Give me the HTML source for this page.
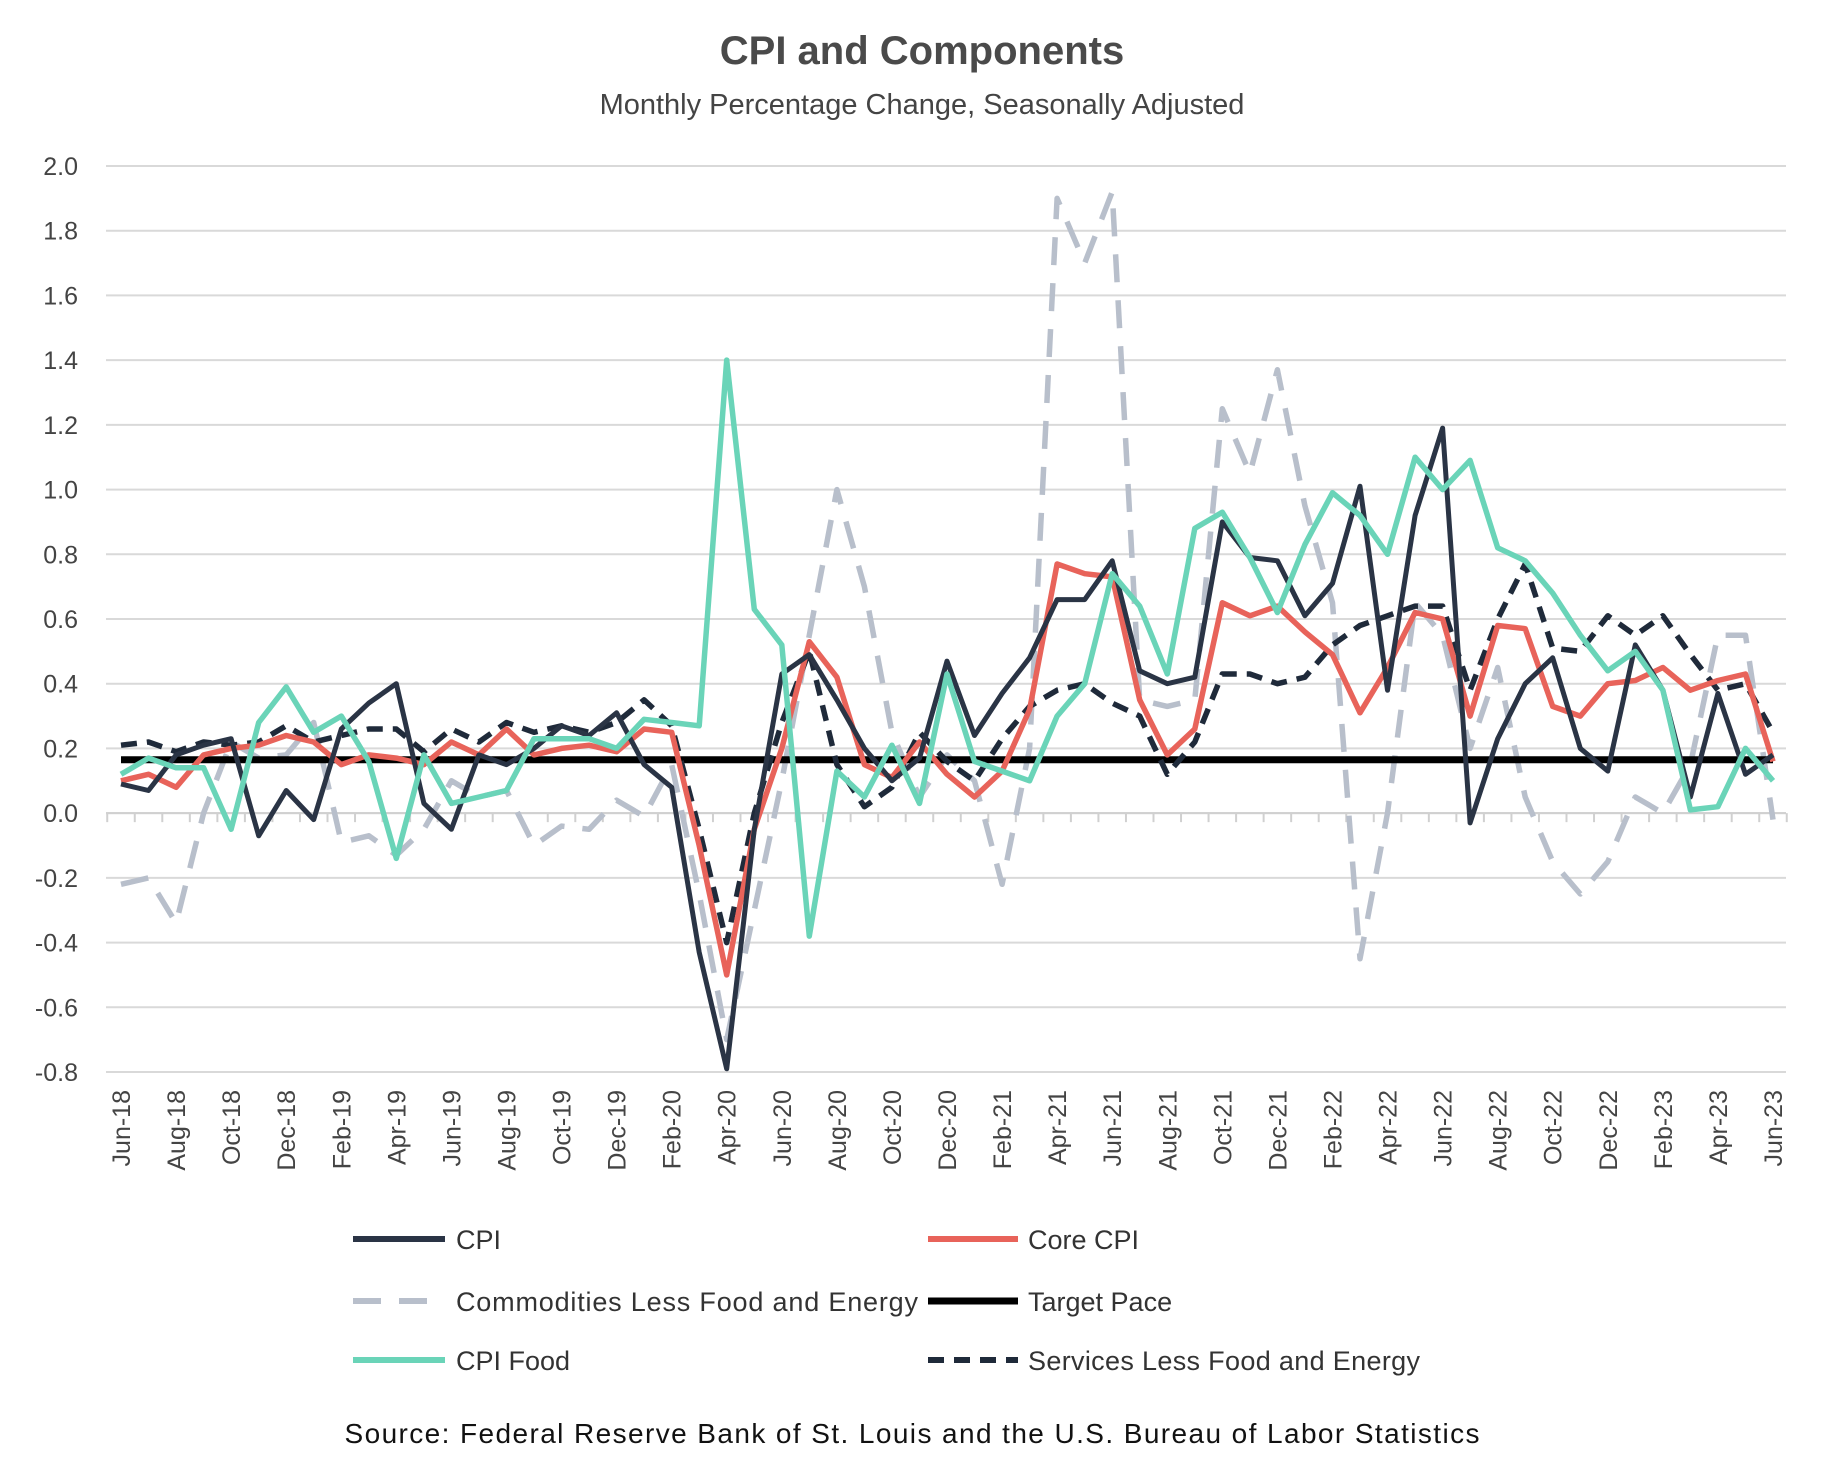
<!DOCTYPE html>
<html><head><meta charset="utf-8">
<style>
html,body{margin:0;padding:0;background:#fff;}
svg{display:block;font-family:"Liberation Sans",sans-serif;}
</style></head>
<body>
<svg id="chart" width="1845" height="1470" viewBox="0 0 1845 1470" xmlns="http://www.w3.org/2000/svg">
<text x="922" y="64" text-anchor="middle" font-size="40" font-weight="bold" fill="#4a4a4a">CPI and Components</text>
<text x="922" y="114" text-anchor="middle" font-size="29" fill="#444">Monthly Percentage Change, Seasonally Adjusted</text>
<g id="grid"></g><g id="series"></g><g id="xlabels"></g>
<g>
<line x1="353" y1="1239" x2="445" y2="1239" stroke="#2a3445" stroke-width="6"/>
<text x="456" y="1249" font-size="27" fill="#333">CPI</text>
<line x1="928" y1="1239" x2="1018" y2="1239" stroke="#e8635a" stroke-width="6"/>
<text x="1028" y="1249" font-size="27" fill="#333">Core CPI</text>
<line x1="353" y1="1301" x2="445" y2="1301" stroke="#b8bfcb" stroke-width="6" stroke-dasharray="28,18"/>
<text x="456" y="1311" font-size="27" fill="#333" textLength="462">Commodities Less Food and Energy</text>
<line x1="928" y1="1301" x2="1018" y2="1301" stroke="#000" stroke-width="7"/>
<text x="1028" y="1311" font-size="27" fill="#333">Target Pace</text>
<line x1="353" y1="1360" x2="445" y2="1360" stroke="#6ad4b8" stroke-width="6"/>
<text x="456" y="1370" font-size="27" fill="#333">CPI Food</text>
<line x1="928" y1="1360" x2="1018" y2="1360" stroke="#1f2a3a" stroke-width="6" stroke-dasharray="16,10"/>
<text x="1028" y="1370" font-size="27" fill="#333" textLength="392">Services Less Food and Energy</text>
</g>
<text x="912" y="1443" text-anchor="middle" font-size="28" fill="#111" textLength="1135">Source: Federal Reserve Bank of St. Louis and the U.S. Bureau of Labor Statistics</text>
</svg>
<script>
const months=["Jun-18","Aug-18","Oct-18","Dec-18","Feb-19","Apr-19","Jun-19","Aug-19","Oct-19","Dec-19","Feb-20","Apr-20","Jun-20","Aug-20","Oct-20","Dec-20","Feb-21","Apr-21","Jun-21","Aug-21","Oct-21","Dec-21","Feb-22","Apr-22","Jun-22","Aug-22","Oct-22","Dec-22","Feb-23","Apr-23","Jun-23"];
const yTicks=[2.0,1.8,1.6,1.4,1.2,1.0,0.8,0.6,0.4,0.2,0.0,-0.2,-0.4,-0.6,-0.8];
const cpi=[0.09,0.07,0.18,0.21,0.23,-0.07,0.07,-0.02,0.26,0.34,0.40,0.03,-0.05,0.18,0.15,0.20,0.27,0.24,0.31,0.15,0.08,-0.43,-0.79,-0.05,0.43,0.49,0.35,0.20,0.10,0.17,0.47,0.24,0.37,0.48,0.66,0.66,0.78,0.44,0.40,0.42,0.90,0.79,0.78,0.61,0.71,1.01,0.38,0.92,1.19,-0.03,0.23,0.40,0.48,0.20,0.13,0.52,0.38,0.05,0.37,0.12,0.18];
const core=[0.10,0.12,0.08,0.18,0.20,0.21,0.24,0.22,0.15,0.18,0.17,0.15,0.22,0.18,0.26,0.18,0.20,0.21,0.19,0.26,0.25,-0.10,-0.50,-0.05,0.20,0.53,0.42,0.15,0.11,0.22,0.12,0.05,0.13,0.32,0.77,0.74,0.73,0.35,0.18,0.26,0.65,0.61,0.64,0.56,0.49,0.31,0.45,0.62,0.60,0.30,0.58,0.57,0.33,0.30,0.40,0.41,0.45,0.38,0.41,0.43,0.16];
const commodities=[-0.22,-0.20,-0.34,0.00,0.22,0.17,0.18,0.28,-0.09,-0.07,-0.13,-0.05,0.10,0.05,0.07,-0.10,-0.04,-0.05,0.04,-0.01,0.15,-0.25,-0.70,-0.30,0.10,0.55,1.00,0.70,0.25,0.05,0.18,0.10,-0.22,0.20,1.90,1.70,1.92,0.35,0.33,0.35,1.25,1.05,1.37,0.95,0.65,-0.45,0.00,0.65,0.55,0.20,0.45,0.05,-0.15,-0.25,-0.15,0.05,0.00,0.15,0.55,0.55,-0.02];
const food=[0.12,0.17,0.14,0.14,-0.05,0.28,0.39,0.25,0.30,0.16,-0.14,0.18,0.03,0.05,0.07,0.23,0.23,0.23,0.20,0.29,0.28,0.27,1.40,0.63,0.52,-0.38,0.13,0.05,0.21,0.03,0.43,0.16,0.13,0.10,0.30,0.40,0.74,0.64,0.43,0.88,0.93,0.79,0.62,0.83,0.99,0.92,0.80,1.10,1.00,1.09,0.82,0.78,0.68,0.55,0.44,0.50,0.38,0.01,0.02,0.20,0.10];
const services=[0.21,0.22,0.19,0.22,0.21,0.22,0.27,0.22,0.24,0.26,0.26,0.19,0.26,0.22,0.28,0.25,0.27,0.25,0.28,0.35,0.27,-0.05,-0.40,0.00,0.28,0.50,0.15,0.02,0.08,0.25,0.16,0.10,0.23,0.33,0.38,0.40,0.34,0.30,0.12,0.22,0.43,0.43,0.40,0.42,0.52,0.58,0.61,0.64,0.64,0.38,0.60,0.77,0.51,0.50,0.61,0.55,0.61,0.49,0.38,0.40,0.25];
const targetPace=0.165;

const NS="http://www.w3.org/2000/svg";
const L=106,R=1786,X0=121,X1=1773,YT=166,YB=1072,N=61;
function xs(i){return X0+(X1-X0)*i/(N-1);}
function ys(v){return YT+(2.0-v)*(YB-YT)/2.8;}
function mk(tag,attrs,parent){const e=document.createElementNS(NS,tag);for(const k in attrs)e.setAttribute(k,attrs[k]);parent.appendChild(e);return e;}
const grid=document.getElementById('grid');
yTicks.forEach(v=>{
  const ln=mk('line',{x1:L,x2:R,y1:ys(v),y2:ys(v),stroke:'#d9d9d9','stroke-width':2},grid);
  
  
  const t=mk('text',{x:78,y:ys(v)+9,'text-anchor':'end','font-size':25,fill:'#444'},grid);
  
  
  t.textContent=v.toFixed(1);
});
const zx=mk('line',{x1:L,x2:R,y1:ys(0),y2:ys(0),stroke:'#d0d0d0','stroke-width':2},grid);


for(let i=0;i<=N;i++){
  const x=X0-(X1-X0)/(N-1)/2+(X1-X0)*i/(N-1);
  const tk=mk('line',{x1:x,x2:x,y1:ys(0),y2:ys(0)+9,stroke:'#d0d0d0','stroke-width':2},grid);
  
  
}
const xl=document.getElementById('xlabels');
months.forEach((m,k)=>{
  const x=xs(k*2);
  const t=mk('text',{transform:`translate(${x+9},1090) rotate(-90)`,'text-anchor':'end','font-size':25,fill:'#444'},xl);
  
  
  t.textContent=m;
});
const sg=document.getElementById('series');
function line(data,stroke,w,dash,name){
  const d=data.map((v,i)=>(i?'L':'M')+xs(i).toFixed(1)+','+ys(v).toFixed(1)).join(' ');
  const p=mk('path',{d:d,fill:'none',stroke:stroke,'stroke-width':w,'stroke-linejoin':'round'},sg);
  if(dash)p.setAttribute('stroke-dasharray',dash);
  
  
}
line(commodities,'#b8bfcb',5.5,'28,18','commodities-line');
const tl=mk('line',{x1:xs(0),x2:xs(N-1),y1:ys(targetPace),y2:ys(targetPace),stroke:'#000','stroke-width':7},sg);


line(services,'#1f2a3a',5.5,'16,10','services-line');
line(core,'#e8635a',5.5,null,'core-cpi-line');
line(cpi,'#2a3445',5,null,'cpi-line');
line(food,'#6ad4b8',5.5,null,'cpi-food-line');
</script>
</body></html>
